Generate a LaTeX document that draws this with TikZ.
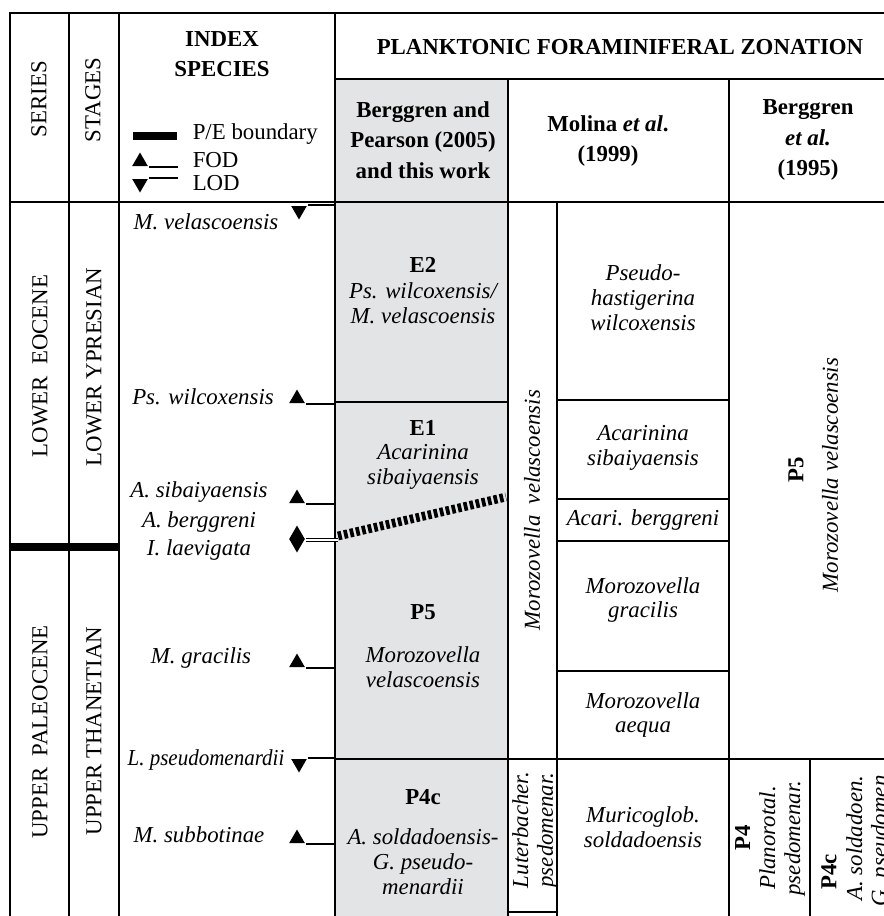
\documentclass[tikz,border=0pt]{standalone}
\usepackage{fontspec}
\setmainfont{Liberation Serif}
\usetikzlibrary{shapes.geometric}
\definecolor{zonegray}{RGB}{227,228,229}
\newcommand{\chartfont}{\fontsize{13}{14.2}\selectfont}

\begin{document}
\begin{tikzpicture}[x=0.02cm,y=-0.02cm,line width=0.9pt]
  \tikzstyle{every node}=[inner sep=0pt,font=\chartfont,align=center]
  \tikzstyle{head}=[font=\fontsize{13}{17.4}\selectfont\bfseries]
  \tikzstyle{taxon}=[font=\chartfont\itshape]
  \tikzstyle{fod}=[regular polygon,regular polygon sides=3,fill,minimum size=0.36cm]
  \tikzstyle{lod}=[fod,shape border rotate=180]
  \tikzstyle{pe}=[line width=5pt,dash pattern=on 2.1pt off 1.4pt]
  \useasboundingbox (0,0) rectangle (884,916);
  \clip (0,0) rectangle (884,916);
  % grey column of this work
  \fill[zonegray] (335,79) rectangle (508,916);
  % table lines
  \draw (10,916) -- (10,13) -- (884,13);
  \draw (69,13) -- (69,916);
  \draw (119,13) -- (119,916);
  \draw (335,13) -- (335,916);
  \draw (335,79) -- (884,79);
  \draw (10,202) -- (884,202);
  \draw (508,79) -- (508,916);
  \draw (729,79) -- (729,916);
  \draw (557,202) -- (557,916);
  \draw (335,402) -- (508,402);
  \draw (557,400) -- (729,400);
  \draw (557,499) -- (729,499);
  \draw (557,541) -- (729,541);
  \draw (557,671) -- (729,671);
  \draw (335,759) -- (884,759);
  \draw (810,759) -- (810,916);
  \draw[line width=1.6pt] (508,759) rectangle (557,912);
  \draw[line width=4pt] (10,547) -- (119,547);

  \coordinate (key-end) at (178,0);
  \coordinate (idx-edge) at (335,0);

  % headings
  \node[rotate=90] (series) at (39,99) {SERIES};
  \node[rotate=90] (stages) at (93,100) {STAGES};
  \node[head] (idx-head) at (222,54) {INDEX\\SPECIES};
  \node[head] (plank) at (620,47) {PLANKTONIC FORAMINIFERAL ZONATION};
  \node[head] (bp-head) at (423,140) {Berggren and\\Pearson (2005)\\and this work};
  \node[head] (mol-head) at (608,141) {Molina \textit{et al}.\\(1999)};
  \node[head] (bg-head) at (808,140) {Berggren\\\textit{et al.}\\(1995)};

  % key
  \fill (133,132) rectangle (177,140);
  \node[anchor=west] (pe-key) at (192,134) {P/E boundary};
  \node[fod] (fod-key) at (140,161.5) {};
  \node[lod] (lod-key) at (140,183.5) {};
  \draw (fod-key.corner 3) -- (fod-key.corner 3 -| key-end);
  \draw (lod-key.corner 2) -- (lod-key.corner 2 -| key-end);
  \node[anchor=west] (fod-txt) at (192,160) {FOD};
  \node[anchor=west] (lod-txt) at (192,183) {LOD};

  % series and stages
  \node[rotate=90] (ser-eoc) at (40,366) {LOWER\ \ EOCENE};
  \node[rotate=90] (stg-ypr) at (94,367) {LOWER YPRESIAN};
  \node[rotate=90] (ser-pal) at (40,732) {UPPER\ \ PALEOCENE};
  \node[rotate=90] (stg-tha) at (94,731) {UPPER THANETIAN};

  % index species
  \node[taxon] (t-vel) at (206,222) {M. velascoensis};
  \node[lod] (l-vel) at (299,210.5) {};
  \draw (l-vel.corner 2) -- (l-vel.corner 2 -| idx-edge);
  \node[taxon] (t-wil) at (203,397) {Ps. wilcoxensis};
  \node[fod] (f-wil) at (297,398.5) {};
  \draw (f-wil.corner 3) -- (f-wil.corner 3 -| idx-edge);
  \node[taxon] (t-sib) at (199,492) {A. sibaiyaensis};
  \node[fod] (f-sib) at (297,498.5) {};
  \draw (f-sib.corner 3) -- (f-sib.corner 3 -| idx-edge);
  \node[taxon] (t-ber) at (199,522) {A. berggreni};
  \node[taxon] (t-lae) at (199,550) {I. laevigata};
  \node[fod] (f-ber) at (297,534.5) {};
  \node[lod] (l-lae) at (297,543.5) {};
  \coordinate (pe-left) at (338,536);
  \coordinate (pe-right) at (506,497);
  \draw[double,double distance=1.3pt,line width=0.6pt] (f-ber.corner 3) -- (f-ber.corner 3 -| pe-left);
  \draw[pe] (pe-left) -- (pe-right);
  \node[taxon] (t-gra) at (201,658) {M. gracilis};
  \node[fod] (f-gra) at (297,662.5) {};
  \draw (f-gra.corner 3) -- (f-gra.corner 3 -| idx-edge);
  \node[taxon] (t-pse) at (206,760) {\scalebox{0.92}[1]{L. pseudomenardii}};
  \node[lod] (l-pse) at (299,763.5) {};
  \draw (l-pse.corner 2) -- (l-pse.corner 2 -| idx-edge);
  \node[taxon] (t-sub) at (199,835) {M. subbotinae};
  \node[fod] (f-sub) at (297,838.5) {};
  \draw (f-sub.corner 3) -- (f-sub.corner 3 -| idx-edge);

  % Berggren and Pearson (2005)
  \node[head] (e2) at (423,265) {E2};
  \node[taxon] (e2-name) at (423,303) {Ps. wilcoxensis/\\M. velascoensis};
  \node[head] (e1) at (423,428) {E1};
  \node[taxon] (e1-name) at (423,467) {Acarinina\\sibaiyaensis};
  \node[head] (p5) at (423,612) {P5};
  \node[taxon] (p5-name) at (423,667) {Morozovella\\velascoensis};
  \node[head] (p4c) at (423,797) {P4c};
  \node[taxon] (p4c-name) at (423,862) {A. soldadoensis-\\G. pseudo-\\menardii};

  % Molina et al. (1999)
  \node[taxon,rotate=90] (mol-vel) at (532,510) {Morozovella\ \ velascoensis};
  \node[taxon] (mol-wil) at (643,298) {Pseudo-\\hastigerina\\wilcoxensis};
  \node[taxon] (mol-sib) at (643,448) {Acarinina\\sibaiyaensis};
  \node[taxon] (mol-ber) at (643,520) {Acari. berggreni};
  \node[taxon] (mol-gra) at (643,600) {Morozovella\\gracilis};
  \node[taxon] (mol-aeq) at (643,715) {Morozovella\\aequa};
  \node[taxon] (mol-sol) at (643,827) {Muricoglob.\\soldadoensis};
  \node[taxon,rotate=90] (mol-lut) at (535,830) {Luterbacher.\\psedomenar.};

  % Berggren et al. (1995)
  \node[head,rotate=90] (bg-p5) at (796,470) {P5};
  \node[taxon,rotate=90] (bg-vel) at (830,475) {Morozovella velascoensis};
  \node[rotate=90] (bg-p4) at (770,838) {\textbf{P4}\\\textit{Planorotal.}\\\textit{psedomenar.}};
  \node[head,rotate=90] (bg-p4c) at (829,872) {P4c};
  \node[taxon,rotate=90] (bg-sol) at (869,838) {A. soldadoen.\\G. pseudomen.};
\end{tikzpicture}
\end{document}
